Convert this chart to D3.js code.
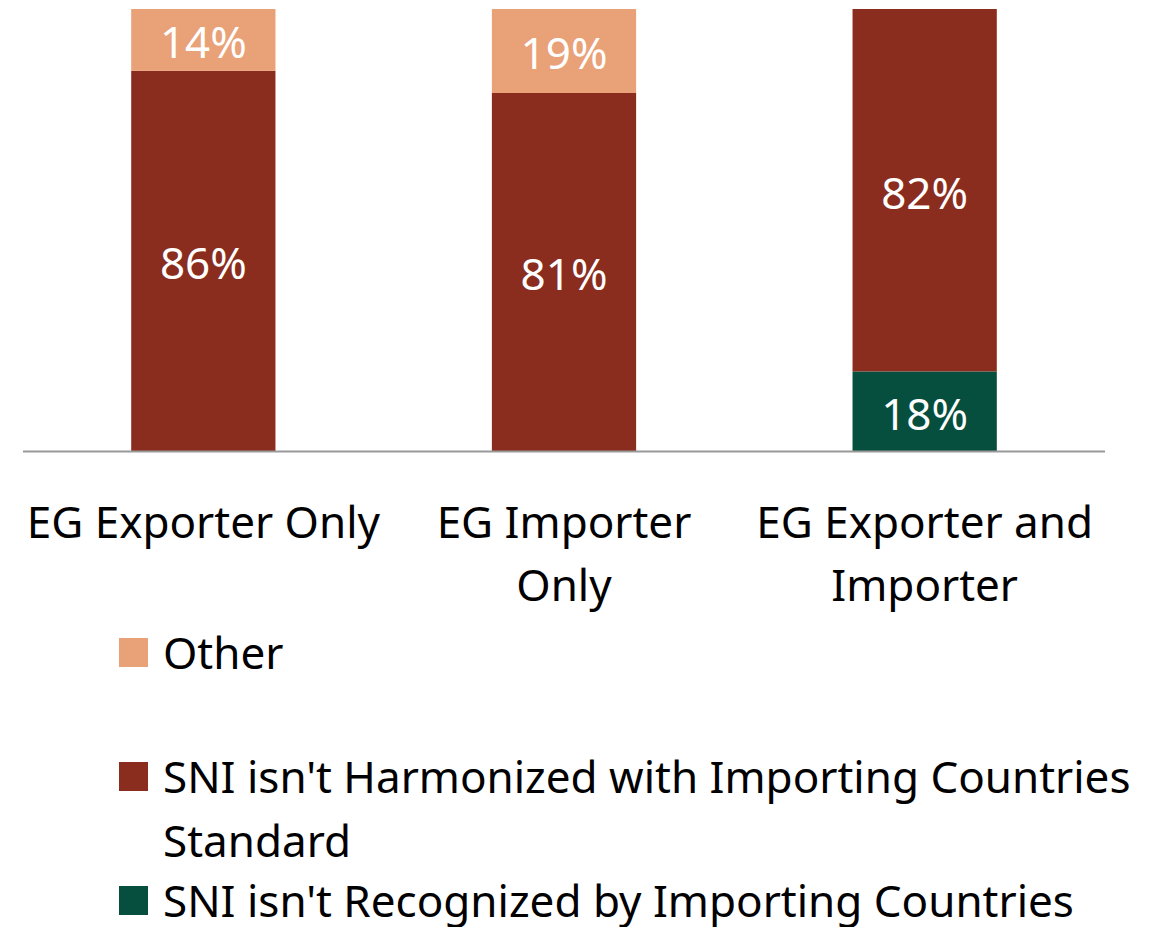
<!DOCTYPE html>
<html>
<head>
<meta charset="utf-8">
<script src="https://cdn.jsdelivr.net/npm/d3@7"></script>
<style>
  body { margin: 0; background: #fff; }
  svg { display: block; font-family: "Noto Sans", "Open Sans", sans-serif; }
</style>
</head>
<body>
<svg id="chart"></svg>
<script>
// data
var categories = ["EG Exporter Only", "EG Importer Only", "EG Exporter and Importer"];
var categoryLines = [["EG Exporter Only"], ["EG Importer", "Only"], ["EG Exporter and", "Importer"]];
var series = ["SNI isn't Recognized by Importing Countries", "SNI isn't Harmonized with Importing Countries Standard", "Other"];
var recognized = [0, 0, 18];
var harmonized = [86, 81, 82];
var other = [14, 19, 0];
var legendLines = [["Other"], ["SNI isn't Harmonized with Importing Countries", "Standard"], ["SNI isn't Recognized by Importing Countries"]];
var legendOrder = ["Other", "SNI isn't Harmonized with Importing Countries Standard", "SNI isn't Recognized by Importing Countries"];

var colors = {};
colors[series[0]] = "#064E3D";
colors[series[1]] = "#8B2D1E";
colors[series[2]] = "#E9A178";

//canvas info
var width = 1174;
var height = 927;
var plotLeft = 23, plotRight = 1105, plotTop = 9, baseline = 451;
var fontSize = 44;

var svg = d3.select("#chart").attr("width", width).attr("height", height);

// build rows for stacking
var rows = categories.map(function(c, i) {
  var r = { cat: c };
  r[series[0]] = recognized[i];
  r[series[1]] = harmonized[i];
  r[series[2]] = other[i];
  return r;
});
var stacked = d3.stack().keys(series)(rows);

var x = d3.scaleBand().domain(categories).range([plotLeft, plotRight]).paddingInner(0.6).paddingOuter(0.3);
var y = d3.scaleLinear().domain([0, 100]).range([baseline, plotTop]);

// bars
var layer = svg.selectAll("g.layer")
  .data(stacked)
  .enter().append("g")
  .attr("class", "layer")
  .attr("fill", function(d) { return colors[d.key]; });

layer.selectAll("rect")
  .data(function(d) { return d; })
  .enter().append("rect")
  .attr("x", function(d) { return x(d.data.cat); })
  .attr("width", x.bandwidth())
  .attr("y", function(d) { return y(d[1]); })
  .attr("height", function(d) { return y(d[0]) - y(d[1]); });

// value labels
layer.selectAll("text")
  .data(function(d) { return d.filter(function(p) { return p[1] - p[0] > 0; }); })
  .enter().append("text")
  .attr("x", function(d) { return x(d.data.cat) + x.bandwidth() / 2; })
  .attr("y", function(d) { return (y(d[0]) + y(d[1])) / 2; })
  .attr("dy", "0.42em")
  .attr("text-anchor", "middle")
  .attr("fill", "#fff")
  .attr("font-size", fontSize)
  .text(function(d) { return (d[1] - d[0]) + "%"; });

// axis line
svg.append("line")
  .attr("x1", plotLeft).attr("x2", plotRight)
  .attr("y1", baseline + 0.5).attr("y2", baseline + 0.5)
  .attr("stroke", "#999").attr("stroke-width", 2);

// category labels
var catText = svg.selectAll("text.cat")
  .data(categories)
  .enter().append("text")
  .attr("class", "cat")
  .attr("text-anchor", "middle")
  .attr("font-size", fontSize)
  .attr("fill", "#000");

catText.selectAll("tspan")
  .data(function(d, i) { return categoryLines[i].map(function(l) { return { line: l, cat: d }; }); })
  .enter().append("tspan")
  .attr("x", function(d) { return x(d.cat) + x.bandwidth() / 2; })
  .attr("y", function(d, j) { return 538 + j * 63; })
  .text(function(d) { return d.line; });

// legend
var legend = svg.selectAll("g.legend")
  .data(legendOrder)
  .enter().append("g")
  .attr("class", "legend")
  .attr("transform", function(d, i) { return "translate(119," + (669 + i * 124) + ")"; });

legend.append("rect")
  .attr("x", 0).attr("y", -31)
  .attr("width", 29).attr("height", 29)
  .attr("fill", function(d) { return colors[d]; });

legend.append("text")
  .attr("font-size", fontSize)
  .attr("fill", "#000")
  .selectAll("tspan")
  .data(function(d, i) { return legendLines[i]; })
  .enter().append("tspan")
  .attr("x", 44)
  .attr("y", function(d, j) { return j * 64; })
  .text(function(d) { return d; });
</script>
</body>
</html>
